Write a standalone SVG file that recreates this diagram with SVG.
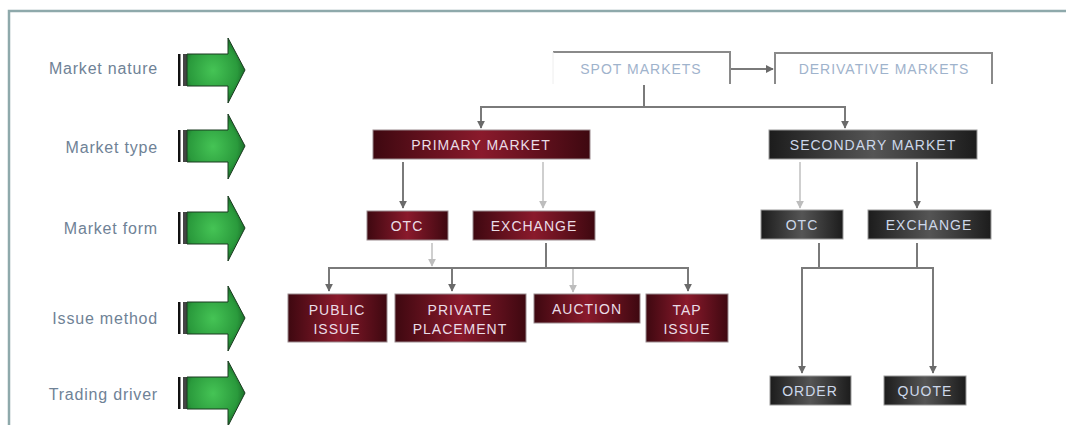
<svg xmlns="http://www.w3.org/2000/svg" width="1066" height="425" viewBox="0 0 1066 425">
<defs>
<style>
.lbl{font-family:"Liberation Sans",Arial,sans-serif;font-size:16px;letter-spacing:0.8px;fill:#6f8296;text-anchor:end}
.bt{font-family:"Liberation Sans",Arial,sans-serif;font-size:14px;letter-spacing:1px;text-anchor:middle}
.rt{fill:#eadde6}
.gt{fill:#cdd8ea}
.wt{fill:#9fb3cc}
.red{fill:url(#redG);stroke:#9a8a8e;stroke-width:1}
.grey{fill:url(#greyG);stroke:#9a9a9a;stroke-width:1}
.ln{fill:none;stroke:#7a7a7a;stroke-width:2}
.lf{fill:none;stroke:#cfcfcf;stroke-width:2}
</style>
<linearGradient id="redG" x1="0" y1="0" x2="1" y2="0">
<stop offset="0" stop-color="#3e0810"/>
<stop offset="0.5" stop-color="#8a1a2c"/>
<stop offset="1" stop-color="#3e0810"/>
</linearGradient>
<linearGradient id="greyG" x1="0" y1="0" x2="1" y2="0">
<stop offset="0" stop-color="#1c1c1c"/>
<stop offset="0.5" stop-color="#555555"/>
<stop offset="1" stop-color="#1c1c1c"/>
</linearGradient>
<radialGradient id="grnG" cx="0.45" cy="0.5" r="0.6">
<stop offset="0" stop-color="#45c455"/>
<stop offset="0.7" stop-color="#2a9a3c"/>
<stop offset="1" stop-color="#145c22"/>
</radialGradient>
<marker id="ah" viewBox="0 0 10 10" refX="9" refY="5" markerWidth="4" markerHeight="4" orient="auto">
<path d="M0,0 L10,5 L0,10 Z" fill="#6a6a6a"/>
</marker>
<marker id="ahf" viewBox="0 0 10 10" refX="9" refY="5" markerWidth="4" markerHeight="4" orient="auto">
<path d="M0,0 L10,5 L0,10 Z" fill="#bdbdbd"/>
</marker>
<g id="garrow">
<rect x="178" y="-16" width="2.5" height="32" fill="#111"/>
<rect x="183" y="-16" width="4" height="32" fill="#444"/>
<path d="M187,-16 H228 V-32 L245,0 L228,33 V16 H187 Z" fill="url(#grnG)" stroke="#1a3a20" stroke-width="1"/>
</g>
</defs>
<rect width="1066" height="425" fill="#ffffff"/>
<path d="M9,425 V11 H1066" fill="none" stroke="#8ea9ab" stroke-width="2.5"/>

<g id="side">
<g id="row-nature"><text class="lbl" x="158" y="74">Market nature</text><use href="#garrow" y="70"/></g>
<g id="row-type"><text class="lbl" x="158" y="153">Market type</text><use href="#garrow" y="146"/></g>
<g id="row-form"><text class="lbl" x="158" y="234">Market form</text><use href="#garrow" y="228"/></g>
<g id="row-issue"><text class="lbl" x="158" y="324">Issue method</text><use href="#garrow" y="318"/></g>
<g id="row-driver"><text class="lbl" x="158" y="400">Trading driver</text><use href="#garrow" y="393"/></g>
</g>

<g id="connectors">
<path class="ln" d="M731,69 H773" marker-end="url(#ah)"/>
<path class="ln" d="M644,85 V106"/>
<path class="ln" d="M481,128 V107 H845 V128" marker-end="url(#ah)"/>
<path class="ln" d="M481,107 V128" marker-end="url(#ah)"/>
<path class="ln" d="M403,162 V208" marker-end="url(#ah)"/>
<path class="lf" d="M543,162 V208" marker-end="url(#ahf)"/>
<path class="lf" d="M800,162 V208" marker-end="url(#ahf)"/>
<path class="ln" d="M917,162 V208" marker-end="url(#ah)"/>
<path class="lf" d="M432,243 V266" marker-end="url(#ahf)"/>
<path class="ln" d="M546,243 V267"/>
<path class="ln" d="M329,291 V268 H688 V291" marker-end="url(#ah)"/>
<path class="ln" d="M329,268 V291" marker-end="url(#ah)"/>
<path class="ln" d="M452,268 V291" marker-end="url(#ah)"/>
<path class="lf" d="M573,269 V292" marker-end="url(#ahf)"/>
<path class="ln" d="M819,243 V267"/>
<path class="ln" d="M917,243 V267"/>
<path class="ln" d="M802,373 V268 H933 V373" marker-end="url(#ah)"/>
<path class="ln" d="M802,268 V373" marker-end="url(#ah)"/>
</g>

<g id="spot">
<path d="M553,52 H730 V84" fill="none" stroke="#8a8a8a" stroke-width="2"/>
<path d="M553,52 V84" fill="none" stroke="#eeeeee" stroke-width="1"/>
<text class="bt wt" x="641" y="74">SPOT MARKETS</text>
</g>
<g id="derivative">
<path d="M775,84 V53 H992 V84" fill="none" stroke="#8a8a8a" stroke-width="2"/>
<text class="bt wt" x="884" y="74">DERIVATIVE MARKETS</text>
</g>

<g id="primary"><rect class="red" x="373" y="130" width="217" height="29"/><text class="bt rt" x="481" y="150">PRIMARY MARKET</text></g>
<g id="secondary"><rect class="grey" x="769" y="130" width="208" height="29"/><text class="bt gt" x="873" y="150">SECONDARY MARKET</text></g>

<g id="otc1"><rect class="red" x="367" y="211" width="81" height="29"/><text class="bt rt" x="407" y="231">OTC</text></g>
<g id="exch1"><rect class="red" x="473" y="211" width="122" height="29"/><text class="bt rt" x="534" y="231">EXCHANGE</text></g>
<g id="otc2"><rect class="grey" x="761" y="210" width="82" height="29"/><text class="bt gt" x="802" y="230">OTC</text></g>
<g id="exch2"><rect class="grey" x="868" y="210" width="123" height="29"/><text class="bt gt" x="929" y="230">EXCHANGE</text></g>

<g id="public"><rect class="red" x="288" y="294" width="99" height="48"/><text class="bt rt" x="337" y="315">PUBLIC</text><text class="bt rt" x="337" y="334">ISSUE</text></g>
<g id="private"><rect class="red" x="395" y="294" width="131" height="48"/><text class="bt rt" x="460" y="315">PRIVATE</text><text class="bt rt" x="460" y="334">PLACEMENT</text></g>
<g id="auction"><rect class="red" x="534" y="294" width="106" height="29"/><text class="bt rt" x="587" y="314">AUCTION</text></g>
<g id="tap"><rect class="red" x="646" y="294" width="82" height="48"/><text class="bt rt" x="687" y="315">TAP</text><text class="bt rt" x="687" y="334">ISSUE</text></g>

<g id="order"><rect class="grey" x="770" y="376" width="81" height="29"/><text class="bt gt" x="810" y="396">ORDER</text></g>
<g id="quote"><rect class="grey" x="884" y="376" width="82" height="29"/><text class="bt gt" x="925" y="396">QUOTE</text></g>
</svg>
